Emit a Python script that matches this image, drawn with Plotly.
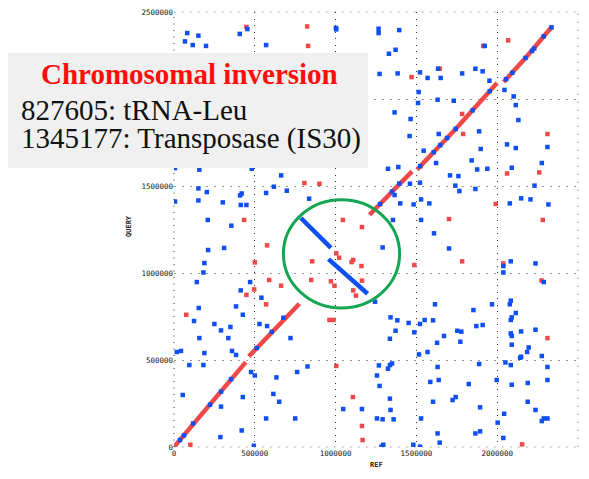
import plotly.graph_objects as go

# ---------------- data ----------------
axis_ticks = [0, 500000, 1000000, 1500000, 2000000, 2500000]
axis_tick_labels = ["0", "500000", "1000000", "1500000", "2000000", "2500000"]

# forward (collinear) alignment runs: REF vs QUERY (None = break)
fwd_ref = [0, 444000, None, 463000, 776000, None,
           1210000, 1473000, None, 1504000, 1743000, 1999000, None, 2040000, 2175000, 2340000]
fwd_query = [0, 488000, None, 521000, 823000, None,
             1335000, 1584000, None, 1594000, 1828000, 2092000, None, 2098000, 2236000, 2417000]

# inverted block (reverse alignment)
inv_ref = [785000, 971000, None, 956000, 1198000]
inv_query = [1316000, 1144000, None, 1080000, 881000]

# reverse hits lying on the forward diagonal
diag_blue_ref = [37000, 62000, 118000, 223000, 291000, 353000, 512000, 605000, 677000,
                 1276000, 1349000, 1394000, 1524000, 1607000, 1648000, 1690000, 1743000,
                 1848000, 1954000, 2055000, 2094000, 2175000, 2216000, 2229000, 2288000, 2336000]
diag_blue_query = [40000, 67000, 135000, 243000, 318000, 390000, 569000, 662000, 743000,
                   1396000, 1468000, 1514000, 1614000, 1694000, 1735000, 1776000, 1828000,
                   1935000, 2045000, 2114000, 2151000, 2236000, 2276000, 2290000, 2360000, 2412000]

# scattered reverse hits
blue_ref = [82000, 68000, 151000, 116000, 198000, 407000, 454000, 570000, 1002000, 1004000,
            6000, 157000, 481000, 663000, 151000, 6000, 203000, 151000, 302000, 419000,
            409000, 413000, 448000, 570000, 618000, 698000, 836000, 209000, 1266000, 1266000,
            1394000, 1371000, 1330000, 1272000, 1384000, 1522000, 1569000, 1634000, 1650000, 1783000,
            1865000, 1910000, 1923000, 1952000, 1514000, 1510000, 1631000, 1731000, 2045000, 2102000,
            2115000, 2131000, 1365000, 1464000, 1458000, 1638000, 1888000, 1898000, 1545000, 1622000,
            1842000, 1876000, 1939000, 1324000, 1388000, 1708000, 1760000, 1741000, 1766000, 1865000,
            1522000, 1460000, 1365000, 1400000, 1483000, 1529000, 1580000, 1355000, 1529000, 2061000,
            2115000, 2311000, 2276000, 2090000, 2231000, 2148000, 2206000, 2078000, 2317000, 355000,
            211000, 310000, 188000, 182000, 141000, 413000, 471000, 541000, 153000, 384000,
            426000, 124000, 250000, 291000, 349000, 157000, 336000, 529000, 576000, 721000,
            17000, 43000, 188000, 359000, 384000, 95000, 182000, 477000, 500000, 634000,
            762000, 826000, 54000, 291000, 426000, 615000, 651000, 287000, 419000, 570000,
            750000, 494000, 1268000, 1244000, 1047000, 1163000, 1256000, 1272000, 1609000, 1702000,
            1291000, 2038000, 2084000, 2237000, 2038000, 2288000, 2084000, 2078000, 1615000, 1853000,
            1968000, 2115000, 2090000, 2084000, 1340000, 1382000, 1452000, 1522000, 1551000, 1603000,
            1371000, 1487000, 1336000, 1753000, 1778000, 1871000, 1910000, 1671000, 1628000, 1772000,
            1569000, 1516000, 2084000, 2090000, 2148000, 2237000, 2090000, 2195000, 2185000, 2148000,
            2142000, 2276000, 2051000, 2084000, 2311000, 1349000, 1336000, 1324000, 1256000, 1631000,
            1888000, 1638000, 1586000, 1824000, 1997000, 2090000, 2189000, 2311000, 1336000, 1603000,
            1743000, 1724000, 2189000, 2237000, 1340000, 1894000, 2043000, 1291000, 1359000, 1529000,
            2003000, 2288000, 2311000, 2276000, 1631000, 1865000, 1894000, 2038000, 1644000, 1295000,
            1284000, 1481000, 1522000]
blue_query = [2379000, 2331000, 2364000, 2310000, 2305000, 2374000, 2402000, 2310000, 2408000, 2400000,
              1603000, 1594000, 1599000, 1561000, 1486000, 1411000, 1465000, 1417000, 1406000, 1457000,
              1446000, 1391000, 1391000, 1460000, 1496000, 1473000, 1427000, 1305000, 2404000, 2379000,
              2396000, 2283000, 2260000, 2144000, 2147000, 2153000, 2121000, 2174000, 2121000, 2147000,
              2174000, 2159000, 2305000, 2105000, 2040000, 1977000, 1996000, 1990000, 2052000, 2015000,
              1965000, 1879000, 1923000, 1885000, 1787000, 1799000, 1814000, 1713000, 1703000, 1632000,
              1647000, 1595000, 1599000, 1599000, 1609000, 1561000, 1557000, 1502000, 1471000, 1483000,
              1519000, 1513000, 1448000, 1400000, 1394000, 1423000, 1400000, 1305000, 1305000, 1739000,
              1718000, 1724000, 1632000, 1605000, 1502000, 1429000, 1423000, 1400000, 1394000, 1272000,
              1132000, 1144000, 1057000, 1003000, 948000, 900000, 948000, 858000, 799000, 808000,
              760000, 724000, 707000, 670000, 690000, 626000, 626000, 707000, 695000, 626000,
              546000, 552000, 540000, 552000, 529000, 471000, 471000, 431000, 411000, 400000,
              431000, 463000, 299000, 232000, 287000, 305000, 260000, 57000, 95000, 164000,
              164000, 7000, 469000, 835000, 218000, 218000, 164000, 351000, 1228000, 1141000,
              1147000, 1040000, 1067000, 1055000, 1003000, 948000, 841000, 820000, 820000, 787000,
              820000, 770000, 745000, 730000, 745000, 728000, 713000, 707000, 730000, 728000,
              668000, 659000, 622000, 668000, 663000, 695000, 701000, 638000, 599000, 605000,
              546000, 532000, 653000, 638000, 664000, 674000, 588000, 572000, 546000, 519000,
              513000, 523000, 486000, 471000, 460000, 480000, 471000, 450000, 411000, 460000,
              477000, 385000, 374000, 362000, 385000, 358000, 368000, 385000, 278000, 260000,
              287000, 270000, 260000, 213000, 213000, 228000, 191000, 159000, 159000, 164000,
              140000, 164000, 164000, 149000, 78000, 78000, 90000, 52000, 25000, 13000,
              2000, 13000, 2000]

# scattered forward hits
red_ref = [448000, 824000, 830000, 807000, 900000, 434000, 1045000, 1470000, 1644000, 1913000,
           2068000, 1783000, 1789000, 1702000, 2311000, 2061000, 2260000, 1991000, 2282000, 576000,
           500000, 448000, 496000, 589000, 663000, 570000, 76000, 101000, 1004000, 1022000,
           855000, 1099000, 1109000, 1163000, 1160000, 849000, 971000, 993000, 1163000, 1109000,
           1126000, 962000, 987000, 1004000, 1107000, 1163000, 1167000, 1783000, 1487000, 2038000,
           2274000, 2311000, 2154000]
red_query = [2414000, 2417000, 2305000, 1517000, 1513000, 1305000, 1305000, 2126000, 2174000, 2305000,
             2337000, 1914000, 1799000, 1310000, 1799000, 1572000, 1578000, 1397000, 1305000, 1159000,
             1061000, 874000, 906000, 960000, 927000, 820000, 760000, 13000, 1113000, 1088000,
             1067000, 1063000, 1075000, 1264000, 1040000, 960000, 952000, 927000, 956000, 900000,
             870000, 730000, 730000, 466000, 287000, 121000, 40000, 1067000, 1046000, 1055000,
             957000, 626000, 15000]

# highlighted inversion region (data units)
circle_ref = [677000, 1396000]
circle_query = [799000, 1421000]

title_text = "Chromosomal inversion"
note_lines = ["827605: tRNA-Leu", "1345177: Transposase (IS30)"]

# ---------------- layout helpers ----------------
W, H = 589, 479
L, R, T, B = 174, 11, 12, 32
PW, PH = W - L - R, H - T - B


def xp(px):
    return (px - L) / PW


def yp(py):
    return (H - B - py) / PH


RED = "#f04848"
BLUE = "#0f4ff2"
SERIF = "Liberation Serif, Times New Roman, serif"

fig = go.Figure()
fig.add_trace(go.Scatter(x=fwd_ref, y=fwd_query, mode="lines",
                         line=dict(color=RED, width=4.5), hoverinfo="skip", showlegend=False))
fig.add_trace(go.Scatter(x=red_ref, y=red_query, mode="markers",
                         marker=dict(symbol="square", size=4.5, color=RED, line=dict(width=0)),
                         showlegend=False))
fig.add_trace(go.Scatter(x=inv_ref, y=inv_query, mode="lines",
                         line=dict(color=BLUE, width=4.5), hoverinfo="skip", showlegend=False))
fig.add_trace(go.Scatter(x=blue_ref, y=blue_query, mode="markers",
                         marker=dict(symbol="square", size=4.5, color=BLUE, line=dict(width=0)),
                         showlegend=False))
fig.add_trace(go.Scatter(x=diag_blue_ref, y=diag_blue_query, mode="markers",
                         marker=dict(symbol="square", size=4.5, color=BLUE, line=dict(width=0)),
                         showlegend=False))

tickfont = dict(family="DejaVu Sans Mono", size=7.5, color="#111")

border = [
    (0, 0, 0, 1, "#333", "1px,5.5px"),   # left
    (1, 0, 1, 1, "#999", "1.5px,6.5px"),  # right
    (0, 1, 1, 1, "#999", "1.5px,6.5px"),  # top
    (0, 0, 1, 0, "#999", "1.5px,6.5px"),  # bottom
]
shapes = [dict(type="line", xref="paper", yref="paper", x0=a, y0=b, x1=c, y1=d,
               line=dict(color=col, width=1, dash=dash), layer="below")
          for a, b, c, d, col, dash in border]
shapes += [
    dict(type="circle", xref="x", yref="y",
         x0=circle_ref[0], x1=circle_ref[1], y0=circle_query[0], y1=circle_query[1],
         line=dict(color="#14a650", width=3), layer="above"),
    dict(type="rect", xref="paper", yref="paper",
         x0=xp(8), x1=xp(368), y0=yp(168), y1=yp(53),
         fillcolor="#f0f0f0", line=dict(width=0), layer="above"),
]

fig.update_layout(
    width=W, height=H,
    margin=dict(l=L, r=R, t=T, b=B, pad=0),
    paper_bgcolor="white", plot_bgcolor="white",
    xaxis=dict(range=[0, 2500000], tickmode="array", tickvals=axis_ticks,
               ticktext=axis_tick_labels, showgrid=True, gridcolor="#333",
               griddash="1px,5.5px", gridwidth=1, zeroline=False, showline=False,
               ticks="", tickfont=tickfont, automargin=False, fixedrange=True),
    yaxis=dict(range=[0, 2500000], tickmode="array", tickvals=axis_ticks,
               ticktext=axis_tick_labels, showgrid=True, gridcolor="#999",
               griddash="1.5px,6.5px", gridwidth=1, zeroline=False, showline=False,
               ticks="", tickfont=tickfont, automargin=False, fixedrange=True),
    shapes=shapes,
    annotations=[
        dict(text="<b>" + title_text + "</b>", xref="paper", yref="paper",
             x=xp(189), y=yp(74), xanchor="center", yanchor="middle", showarrow=False,
             font=dict(family=SERIF, size=29, color="#ff0d0d")),
        dict(text=note_lines[0], xref="paper", yref="paper",
             x=xp(19), y=yp(110), xanchor="left", yanchor="middle", showarrow=False,
             font=dict(family=SERIF, size=29, color="#111")),
        dict(text=note_lines[1], xref="paper", yref="paper",
             x=xp(19), y=yp(138), xanchor="left", yanchor="middle", showarrow=False,
             font=dict(family=SERIF, size=29, color="#111")),
        dict(text="<b>REF</b>", xref="paper", yref="paper", x=xp(376), y=yp(465),
             xanchor="center", yanchor="middle", showarrow=False,
             font=dict(family="DejaVu Sans Mono", size=7, color="#222")),
        dict(text="<b>QUERY</b>", xref="paper", yref="paper", x=xp(129), y=yp(226),
             xanchor="center", yanchor="middle", showarrow=False, textangle=-90,
             font=dict(family="DejaVu Sans Mono", size=7, color="#222")),
    ],
)

fig.write_html("out.html")
